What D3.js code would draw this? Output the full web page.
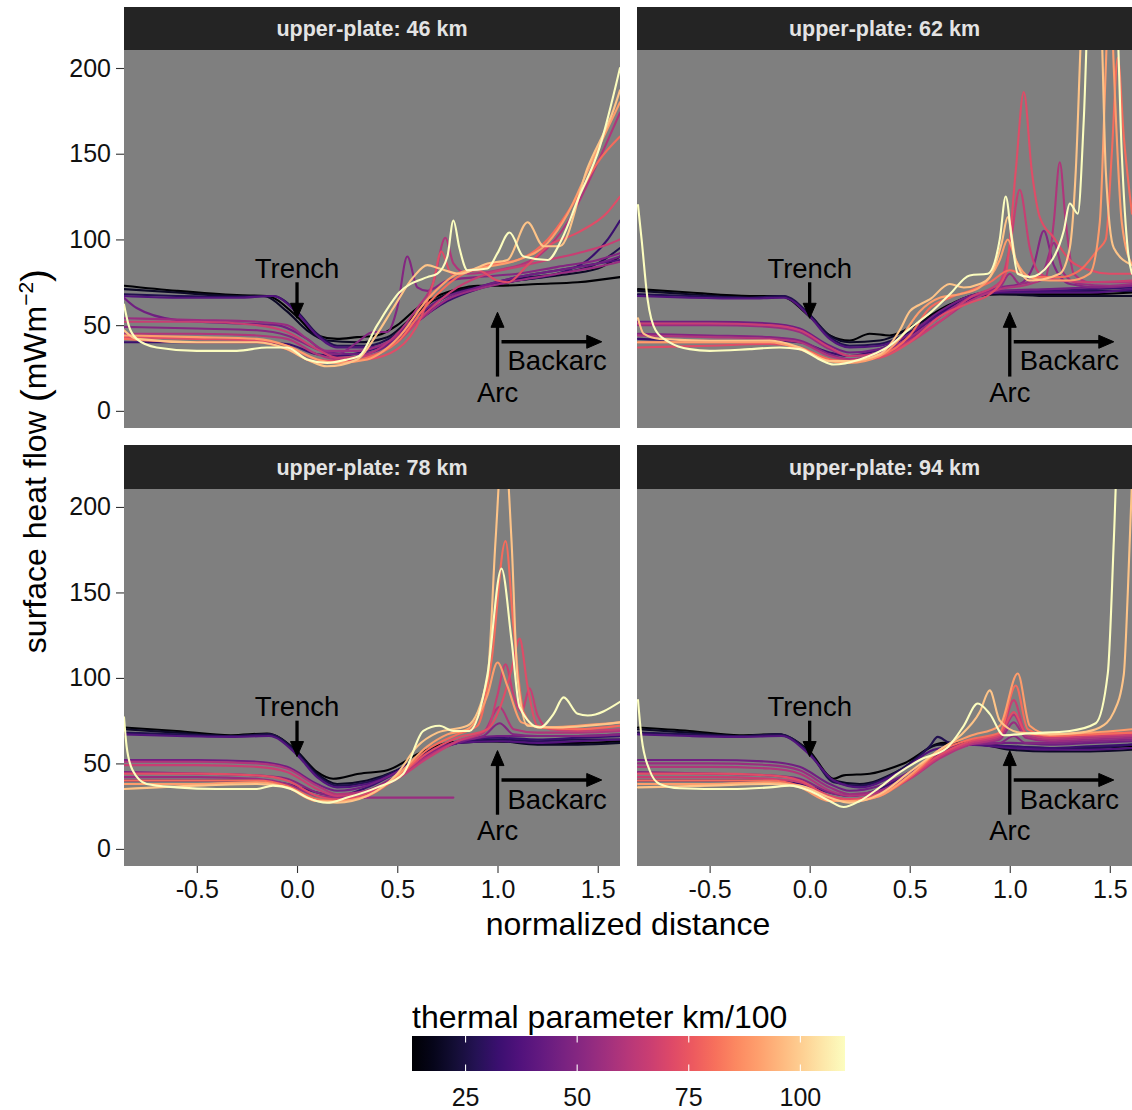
<!DOCTYPE html>
<html><head><meta charset="utf-8">
<script src="https://cdn.jsdelivr.net/npm/d3@7"></script>
<style>
html,body{margin:0;padding:0;background:#fff;}
svg{display:block;font-family:"Liberation Sans",Arial,Helvetica,sans-serif;}
</style></head><body>
<svg id="chart" width="1132" height="1110"></svg>
<script>
// Facet titles (upper-plate thickness)
const panelTitles = ["upper-plate: 46 km", "upper-plate: 62 km", "upper-plate: 78 km", "upper-plate: 94 km"];

// Thermal parameter (km/100) of each model, shared by all facets
const thermalParams = [13, 20, 27, 32, 38, 45, 50, 55, 60, 66, 72, 80, 90, 98, 110];

// Surface heat flow profiles [normalized distance, mW/m^2], one list per model
const hf46 = [
  [[-0.863,73],[-0.6,70],[-0.3,67.5],[-0.15,67],[0,55],[0.1,44],[0.2,42],[0.3,43],[0.4,44],[0.5,50],[0.6,60],[0.7,67],[0.8,71],[0.9,73],[1.0,73],[1.2,74],[1.4,75],[1.611,78]],
  [[-0.863,71],[-0.6,69],[-0.3,67],[-0.17,67],[-0.05,58],[0.05,47],[0.15,41],[0.3,40],[0.45,43],[0.55,52],[0.65,62],[0.8,70],[0.95,73],[1.1,76],[1.3,79],[1.5,83],[1.611,90]],
  [[-0.863,68],[-0.6,67],[-0.3,66.5],[-0.12,67],[0,58],[0.1,45],[0.2,38],[0.35,38],[0.5,45],[0.6,55],[0.75,67],[0.9,72],[1.1,77],[1.3,80],[1.5,86],[1.611,95]],
  [[-0.863,40],[-0.5,40],[-0.2,40],[-0.05,39],[0.1,33],[0.2,32],[0.35,35],[0.5,42],[0.6,52],[0.75,64],[0.9,71],[1.1,76],[1.3,80],[1.45,88],[1.55,100],[1.611,111]],
  [[-0.863,67],[-0.6,66],[-0.3,66],[-0.12,67],[0,57],[0.1,44],[0.2,37],[0.35,37],[0.5,42],[0.6,52],[0.75,65],[0.9,72],[1.1,78],[1.3,82],[1.5,86],[1.611,88]],
  [[-0.863,66],[-0.8,60],[-0.6,53],[-0.3,51],[-0.1,50],[0.05,42],[0.15,34],[0.3,33],[0.45,38],[0.55,50],[0.7,64],[0.9,72],[1.1,78],[1.3,82],[1.5,86],[1.611,90]],
  [[-0.863,49],[-0.5,48],[-0.2,47],[-0.05,44],[0.1,36],[0.2,33],[0.3,40],[0.38,46],[0.45,46],[0.5,60],[0.55,90],[0.6,72],[0.65,70],[0.75,76],[0.9,78],[1.1,80],[1.3,84],[1.5,88],[1.611,92]],
  [[-0.863,54],[-0.5,53],[-0.2,52],[-0.05,50],[0.05,42],[0.15,35],[0.3,35],[0.45,40],[0.6,52],[0.75,65],[0.9,71],[1.1,76],[1.3,80],[1.5,84],[1.611,87]],
  [[-0.863,45],[-0.5,45],[-0.2,44],[-0.05,42],[0.1,33],[0.2,30],[0.35,33],[0.5,45],[0.6,60],[0.68,75],[0.74,101],[0.78,86],[0.85,80],[1.0,82],[1.2,90],[1.35,110],[1.5,145],[1.611,174]],
  [[-0.863,52],[-0.5,52],[-0.2,50],[-0.05,46],[0.1,36],[0.2,31],[0.35,32],[0.5,40],[0.65,58],[0.8,72],[0.95,80],[1.1,84],[1.25,88],[1.4,92],[1.55,97],[1.611,100]],
  [[-0.863,43],[-0.5,42],[-0.2,41],[-0.05,38],[0.1,30],[0.2,29],[0.35,30],[0.5,36],[0.62,55],[0.68,75],[0.72,93],[0.77,80],[0.9,82],[1.0,76],[1.05,75],[1.15,85],[1.25,96],[1.4,104],[1.55,116],[1.611,125]],
  [[-0.863,42],[-0.5,40],[-0.2,40],[-0.05,36],[0.1,28],[0.2,28],[0.35,31],[0.5,40],[0.65,62],[0.8,78],[0.95,85],[1.1,88],[1.25,100],[1.4,125],[1.5,145],[1.611,160]],
  [[-0.863,44],[-0.5,43],[-0.2,42],[-0.05,38],[0.1,30],[0.2,28],[0.35,30],[0.5,42],[0.65,65],[0.8,80],[0.95,84],[1.1,88],[1.25,98],[1.35,115],[1.45,140],[1.55,165],[1.611,180]],
  [[-0.863,47],[-0.8,42],[-0.5,40],[-0.2,40],[-0.05,36],[0.05,30],[0.15,26],[0.3,30],[0.4,45],[0.48,60],[0.58,78],[0.65,85],[0.71,83],[0.81,80],[0.95,86],[1.05,88],[1.15,110],[1.23,96],[1.31,96],[1.45,142],[1.58,176],[1.611,187]],
  [[-0.863,62],[-0.84,50],[-0.8,42],[-0.7,37],[-0.5,35],[-0.3,35],[-0.15,37],[-0.05,37],[0.05,30],[0.15,28],[0.25,30],[0.31,32],[0.4,50],[0.51,69],[0.65,78],[0.7,80],[0.75,90],[0.78,111],[0.81,95],[0.85,82],[0.95,83],[1.0,92],[1.06,104],[1.13,90],[1.25,88],[1.32,100],[1.4,123],[1.51,154],[1.611,200]]
];

const hf62 = [
  [[-0.858,71],[-0.6,69],[-0.3,67],[-0.15,67],[0,55],[0.1,44],[0.2,41],[0.3,45],[0.4,44],[0.55,52],[0.7,62],[0.85,68],[1.0,68],[1.2,68],[1.4,68],[1.611,69]],
  [[-0.858,70],[-0.6,68],[-0.3,66],[-0.14,67],[0,56],[0.1,44],[0.2,40],[0.35,41],[0.5,48],[0.65,58],[0.8,66],[0.95,68],[1.2,67],[1.4,67],[1.611,67]],
  [[-0.858,68],[-0.6,67],[-0.3,66],[-0.13,67],[0,56],[0.1,43],[0.2,38],[0.35,39],[0.5,46],[0.65,57],[0.8,66],[0.95,69],[1.2,70],[1.4,70],[1.611,70]],
  [[-0.858,42],[-0.5,41],[-0.2,41],[-0.05,40],[0.1,34],[0.2,32],[0.35,36],[0.5,44],[0.65,57],[0.8,67],[0.95,70],[1.2,70],[1.4,71],[1.611,72]],
  [[-0.858,67],[-0.6,66],[-0.3,65.5],[-0.13,66],[0,55],[0.1,42],[0.2,37],[0.35,38],[0.5,45],[0.65,56],[0.8,65],[0.95,69],[1.2,69],[1.4,69],[1.611,71]],
  [[-0.858,52],[-0.5,52],[-0.2,51],[-0.05,48],[0.1,38],[0.2,34],[0.35,36],[0.5,45],[0.65,58],[0.8,67],[0.95,70],[1.2,71],[1.4,72],[1.611,73]],
  [[-0.858,45],[-0.5,44],[-0.2,43],[-0.05,41],[0.1,33],[0.2,30],[0.35,33],[0.5,42],[0.65,55],[0.8,66],[0.95,72],[1.05,74],[1.12,85],[1.17,105],[1.22,85],[1.3,74],[1.45,72],[1.611,73]],
  [[-0.858,50],[-0.5,50],[-0.2,49],[-0.05,46],[0.1,36],[0.2,32],[0.35,34],[0.5,43],[0.65,55],[0.8,66],[0.95,72],[1.0,80],[1.05,74],[1.17,82],[1.22,98],[1.27,80],[1.35,74],[1.5,73],[1.611,74]],
  [[-0.858,44],[-0.5,43],[-0.2,42],[-0.05,40],[0.1,32],[0.2,30],[0.35,33],[0.5,41],[0.65,52],[0.8,64],[0.95,71],[1.1,74],[1.18,78],[1.22,110],[1.25,145],[1.28,110],[1.32,80],[1.4,75],[1.611,75]],
  [[-0.858,51],[-0.5,51],[-0.2,50],[-0.05,47],[0.1,37],[0.2,32],[0.35,33],[0.5,40],[0.65,52],[0.8,66],[0.95,75],[1.0,95],[1.05,129],[1.1,95],[1.15,80],[1.25,76],[1.4,75],[1.611,76]],
  [[-0.858,37],[-0.5,38],[-0.2,39],[-0.05,37],[0.1,30],[0.2,29],[0.35,31],[0.5,40],[0.65,55],[0.8,63],[0.9,68],[0.98,80],[1.03,140],[1.07,186],[1.11,140],[1.15,113],[1.22,101],[1.3,88],[1.4,82],[1.5,80],[1.611,80]],
  [[-0.858,40],[-0.5,40],[-0.2,40],[-0.05,37],[0.1,30],[0.2,29],[0.35,32],[0.5,44],[0.6,60],[0.7,66],[0.8,70],[0.9,75],[1.0,82],[1.1,78],[1.25,78],[1.35,82],[1.44,94],[1.48,100],[1.51,150],[1.54,206],[1.57,160],[1.611,115]],
  [[-0.858,40],[-0.5,40],[-0.2,40],[-0.05,36],[0.1,29],[0.2,28],[0.35,32],[0.45,42],[0.55,58],[0.65,66],[0.75,68],[0.85,72],[0.95,88],[0.99,100],[1.03,88],[1.1,78],[1.2,76],[1.3,76],[1.4,80],[1.45,110],[1.48,200],[1.5,260],[1.52,200],[1.56,110],[1.611,85]],
  [[-0.858,54],[-0.83,45],[-0.75,42],[-0.5,41],[-0.2,41],[-0.05,37],[0.1,29],[0.2,29],[0.35,33],[0.45,47],[0.5,58],[0.55,62],[0.6,65],[0.7,74],[0.77,72],[0.85,74],[0.9,78],[0.96,98],[0.99,113],[1.03,88],[1.1,76],[1.25,80],[1.3,95],[1.33,140],[1.36,230],[1.42,300],[1.46,220],[1.48,140],[1.52,95],[1.611,85]],
  [[-0.858,120],[-0.84,100],[-0.81,65],[-0.77,47],[-0.7,40],[-0.6,36],[-0.5,35],[-0.3,36],[-0.15,37],[-0.05,36],[0.05,30],[0.12,27],[0.25,30],[0.4,38],[0.5,48],[0.6,57],[0.7,68],[0.8,79],[0.89,80],[0.95,100],[0.98,125],[1.01,100],[1.04,80],[1.1,78],[1.2,86],[1.27,105],[1.3,121],[1.34,115],[1.37,170],[1.4,260],[1.47,300],[1.53,250],[1.56,150],[1.59,94],[1.611,80]]
];

const hf78 = [
  [[-0.863,71],[-0.6,69],[-0.33,66.5],[-0.15,67.5],[0,57],[0.1,45],[0.18,41],[0.31,44],[0.45,46],[0.61,56],[0.78,62.5],[0.95,63],[1.2,62],[1.4,62],[1.611,63]],
  [[-0.863,70],[-0.6,68],[-0.33,66],[-0.15,67],[0,57],[0.1,44],[0.2,38],[0.35,40],[0.5,46],[0.65,56],[0.8,62],[1.0,63],[1.2,61],[1.4,61],[1.611,62]],
  [[-0.863,68],[-0.6,67],[-0.33,66],[-0.14,67],[0,56],[0.1,43],[0.2,37],[0.35,39],[0.5,46],[0.65,57],[0.8,62],[1.0,64],[1.2,63],[1.4,64],[1.611,64]],
  [[-0.863,40],[-0.5,40],[-0.2,40],[-0.05,38],[0.1,33],[0.2,31],[0.35,36],[0.5,45],[0.65,56],[0.8,62],[1.0,65],[1.2,64],[1.4,65],[1.611,66]],
  [[-0.863,67],[-0.6,66],[-0.33,65.5],[-0.14,66],[0,55],[0.1,42],[0.2,36],[0.35,38],[0.5,45],[0.65,56],[0.8,62],[1.0,63],[1.2,62],[1.4,63],[1.611,64]],
  [[-0.863,52],[-0.5,52],[-0.2,51],[-0.05,48],[0.1,38],[0.2,34],[0.35,37],[0.5,45],[0.65,55],[0.8,62],[1.0,66],[1.2,66],[1.4,66],[1.611,67]],
  [[-0.863,45],[-0.5,44],[-0.2,43],[-0.05,41],[0.1,33],[0.2,31],[0.35,34],[0.5,43],[0.65,55],[0.8,63],[0.93,66],[1.01,73.5],[1.08,67],[1.2,66],[1.4,66],[1.611,67]],
  [[-0.863,42],[-0.5,42],[-0.2,41],[-0.05,38],[0.1,31],[0.2,30],[0.4,30],[0.6,30],[0.78,30]],
  [[-0.863,51],[-0.5,51],[-0.2,50],[-0.05,47],[0.1,37],[0.2,32],[0.35,34],[0.5,42],[0.65,54],[0.8,63],[0.93,68],[1.01,83],[1.08,70],[1.2,68],[1.4,68],[1.611,69]],
  [[-0.863,49],[-0.5,49],[-0.2,48],[-0.05,45],[0.1,35],[0.2,31],[0.35,33],[0.5,41],[0.65,53],[0.8,63],[0.95,70],[1.0,90],[1.04,108],[1.08,90],[1.12,80],[1.16,94],[1.2,78],[1.26,70],[1.4,69],[1.611,70]],
  [[-0.863,44],[-0.5,44],[-0.2,43],[-0.05,40],[0.1,31],[0.2,29],[0.35,32],[0.5,42],[0.65,56],[0.8,65],[0.95,70],[1.02,85],[1.07,105],[1.11,123],[1.15,95],[1.2,72],[1.4,70],[1.611,72]],
  [[-0.863,40],[-0.5,40],[-0.2,40],[-0.05,37],[0.1,29],[0.2,28],[0.35,31],[0.5,42],[0.65,58],[0.8,67],[0.9,72],[0.97,110],[1.04,180],[1.08,130],[1.13,80],[1.2,71],[1.4,70],[1.611,72]],
  [[-0.863,38],[-0.5,38],[-0.2,39],[-0.05,36],[0.1,28],[0.2,28],[0.35,31],[0.5,43],[0.65,60],[0.75,67],[0.85,70],[0.95,90],[1.0,109],[1.05,95],[1.12,74],[1.25,71],[1.4,72],[1.611,74]],
  [[-0.863,35],[-0.5,37],[-0.2,38],[-0.05,36],[0.1,28],[0.2,27],[0.35,31],[0.5,44],[0.6,60],[0.7,68],[0.85,72],[0.95,100],[0.99,180],[1.03,245],[1.07,180],[1.1,100],[1.15,72],[1.3,71],[1.45,72],[1.611,74]],
  [[-0.863,77],[-0.85,60],[-0.82,46],[-0.75,38],[-0.6,36],[-0.4,35],[-0.2,35],[-0.12,37],[-0.03,35],[0.05,30],[0.15,27],[0.25,30],[0.4,36],[0.53,44],[0.63,69],[0.71,72],[0.78,69],[0.86,69],[0.95,102],[1.02,164],[1.07,122],[1.11,83],[1.21,71],[1.28,79],[1.33,88.6],[1.4,79],[1.45,78],[1.611,86]]
];

const hf94 = [
  [[-0.858,71],[-0.6,69],[-0.35,66.5],[-0.16,67],[0,57],[0.12,41],[0.17,43],[0.3,44],[0.47,50],[0.67,62],[0.85,62],[1.0,59],[1.2,58],[1.4,59],[1.611,60]],
  [[-0.858,70],[-0.6,68],[-0.35,66],[-0.16,67],[0,56],[0.12,40],[0.25,38],[0.45,46],[0.65,61],[0.85,61],[1.0,58],[1.2,57],[1.4,57],[1.611,58]],
  [[-0.858,68],[-0.6,67],[-0.35,66],[-0.15,67],[0,56],[0.12,39],[0.25,37],[0.45,46],[0.6,60],[0.64,65.5],[0.7,62],[0.85,61],[1.0,60],[1.2,59],[1.4,59],[1.611,61]],
  [[-0.858,40],[-0.5,40],[-0.2,40],[-0.05,38],[0.1,33],[0.2,31],[0.35,35],[0.5,45],[0.65,56],[0.8,61],[1.0,60],[1.2,59],[1.4,60],[1.611,61]],
  [[-0.858,67],[-0.6,66],[-0.35,65.5],[-0.14,66],[0,55],[0.12,40],[0.25,36],[0.45,45],[0.62,58],[0.8,61],[1.0,59],[1.2,58],[1.4,58],[1.611,59]],
  [[-0.858,52],[-0.5,52],[-0.2,51],[-0.05,48],[0.1,38],[0.2,34],[0.35,37],[0.5,45],[0.65,56],[0.8,61],[1.0,62],[1.2,61],[1.4,62],[1.611,63]],
  [[-0.858,45],[-0.5,44],[-0.2,43],[-0.05,41],[0.1,33],[0.2,31],[0.35,34],[0.5,43],[0.65,55],[0.8,61],[0.95,62],[1.02,66],[1.08,62],[1.2,62],[1.4,63],[1.611,64]],
  [[-0.858,50],[-0.5,50],[-0.2,49],[-0.05,46],[0.1,36],[0.2,32],[0.35,34],[0.5,42],[0.65,54],[0.8,61],[0.95,64],[1.02,74],[1.08,65],[1.2,63],[1.4,64],[1.611,65]],
  [[-0.858,48],[-0.5,48],[-0.2,47],[-0.05,44],[0.1,34],[0.2,31],[0.35,33],[0.5,41],[0.65,53],[0.8,61],[0.95,65],[1.02,78.5],[1.08,66],[1.2,64],[1.4,65],[1.611,66]],
  [[-0.858,42],[-0.5,42],[-0.2,41],[-0.05,39],[0.1,31],[0.2,29],[0.35,32],[0.5,41],[0.65,54],[0.8,62],[0.95,66],[1.02,87],[1.08,68],[1.2,65],[1.4,66],[1.611,67]],
  [[-0.858,44],[-0.5,44],[-0.2,43],[-0.05,40],[0.1,31],[0.2,29],[0.35,32],[0.5,42],[0.65,55],[0.8,63],[0.95,67],[1.02,80],[1.08,68],[1.2,66],[1.4,67],[1.611,68]],
  [[-0.858,40],[-0.5,40],[-0.2,40],[-0.05,37],[0.1,29],[0.2,28],[0.35,31],[0.5,42],[0.65,57],[0.8,64],[0.95,68],[1.03,95.6],[1.09,70],[1.2,66],[1.4,67],[1.611,68]],
  [[-0.858,38],[-0.5,38],[-0.2,39],[-0.05,36],[0.1,28],[0.2,28],[0.35,31],[0.5,43],[0.65,58],[0.8,66],[0.95,72],[1.04,102.6],[1.1,72],[1.2,67],[1.4,68],[1.611,70]],
  [[-0.858,36],[-0.5,37],[-0.2,38],[-0.05,37],[0.1,30],[0.2,27],[0.35,32],[0.5,45],[0.65,58],[0.75,66],[0.85,80],[0.9,92.7],[0.95,75],[1.05,68],[1.2,67],[1.35,68],[1.45,71],[1.52,80],[1.57,102],[1.59,150],[1.611,215]],
  [[-0.858,87],[-0.84,65],[-0.8,46],[-0.75,38],[-0.65,35.5],[-0.4,35],[-0.2,36],[-0.1,37],[0,34],[0.1,28],[0.17,24.5],[0.25,28],[0.35,36],[0.44,44],[0.55,52],[0.69,59.5],[0.77,72],[0.84,85],[0.9,79],[0.97,66.5],[1.1,67.6],[1.3,69],[1.43,73.5],[1.49,102.6],[1.52,180],[1.54,240],[1.611,300]]
];

const xTicks = [-0.5, 0, 0.5, 1, 1.5];
const yTicks = [0, 50, 100, 150, 200];
const legendTicks = [25, 50, 75, 100];

// ---------- drawing ----------
const svg = d3.select("#chart");
const FONT = '"Liberation Sans",Arial,Helvetica,sans-serif';

const colX = [124, 637], panelW = [496, 495];
const rowY = [50, 489], panelH = [378, 377], stripH = [43, 44];
const xDomain = [-0.863, 1.611], yDomain = [-10, 210.5];

const color = d3.scaleSequential(d3.interpolateMagma).domain(d3.extent(thermalParams));
const drawOrder = d3.range(thermalParams.length).sort((a, b) => thermalParams[a] - thermalParams[b]);
const defs = svg.append("defs");
const fmtX = d => d3.format(".1f")(d).replace("\u2212", "-");

function arrow(g, x1, y1, x2, y2) {
  const dx = x2 - x1, dy = y2 - y1, len = Math.hypot(dx, dy);
  const ux = dx / len, uy = dy / len, head = 15, half = 6.5;
  const bx = x2 - ux * head, by = y2 - uy * head;
  g.append("line").attr("x1", x1).attr("y1", y1).attr("x2", bx + ux * 2).attr("y2", by + uy * 2)
    .attr("stroke", "#000").attr("stroke-width", 3.3);
  g.append("path")
    .attr("d", `M${x2},${y2}L${bx - uy * half},${by + ux * half}L${bx + uy * half},${by - ux * half}Z`)
    .attr("fill", "#000").attr("stroke", "#000").attr("stroke-width", 1);
}

[hf46, hf62, hf78, hf94].forEach((series, i) => {
  const col = i % 2, row = Math.floor(i / 2);
  const x0 = colX[col], y0 = rowY[row], w = panelW[col], h = panelH[row];
  const x = d3.scaleLinear().domain(xDomain).range([x0, x0 + w]);
  const y = d3.scaleLinear().domain(yDomain).range([y0 + h, y0]);

  // facet strip
  svg.append("rect").attr("x", x0).attr("y", y0 - stripH[row]).attr("width", w).attr("height", stripH[row])
    .attr("fill", "#242424");
  svg.append("text").attr("x", x0 + w / 2).attr("y", y0 - stripH[row] / 2).attr("dy", "0.36em")
    .attr("text-anchor", "middle").attr("font-weight", "bold").attr("font-size", 21.5)
    .attr("fill", "#e3e3e3").text(panelTitles[i]);

  // panel background
  svg.append("rect").attr("x", x0).attr("y", y0).attr("width", w).attr("height", h).attr("fill", "#7f7f7f");

  defs.append("clipPath").attr("id", "clip" + i)
    .append("rect").attr("x", x0).attr("y", y0).attr("width", w).attr("height", h);

  const g = svg.append("g").attr("clip-path", `url(#clip${i})`);
  const line = d3.line().x(d => x(d[0])).y(d => y(d[1])).curve(d3.curveMonotoneX);
  drawOrder.forEach(k => {
    g.append("path").attr("d", line(series[k])).attr("fill", "none")
      .attr("stroke", color(thermalParams[k])).attr("stroke-width", 2.1)
      .attr("stroke-linejoin", "round").attr("stroke-linecap", "round");
  });

  // annotations
  const ann = svg.append("g").attr("font-size", 27.5).attr("fill", "#000");
  ann.append("text").attr("x", x(0)).attr("y", y(83.4)).attr("dy", "0.35em").attr("text-anchor", "middle").text("Trench");
  arrow(ann, x(0), y(75), x(0), y(54));
  arrow(ann, x(1), y(20), x(1), y(57.5));
  arrow(ann, x(1.02), y(40.3), x(1.52), y(40.3));
  ann.append("text").attr("x", x(1)).attr("y", y(11)).attr("dy", "0.35em").attr("text-anchor", "middle").text("Arc");
  ann.append("text").attr("x", x(1.05)).attr("y", y(29.2)).attr("dy", "0.35em").attr("text-anchor", "start").text("Backarc");

  // axes
  if (col === 0) {
    const ax = svg.append("g").attr("transform", `translate(${x0},0)`)
      .call(d3.axisLeft(y).tickValues(yTicks).tickFormat(d3.format("d")).tickSize(8).tickPadding(5));
    ax.select(".domain").remove();
    ax.selectAll("line").attr("stroke", "#333").attr("stroke-width", 1.1);
    ax.selectAll("text").attr("font-size", 25).attr("fill", "#111").attr("font-family", FONT);
  }
  if (row === 1) {
    const ax = svg.append("g").attr("transform", `translate(0,${y0 + h})`)
      .call(d3.axisBottom(x).tickValues(xTicks).tickFormat(fmtX).tickSize(7).tickPadding(7));
    ax.select(".domain").remove();
    ax.selectAll("line").attr("stroke", "#333").attr("stroke-width", 1.1);
    ax.selectAll("text").attr("font-size", 25).attr("fill", "#111").attr("font-family", FONT);
  }
});

// axis titles
svg.append("text").attr("x", 628).attr("y", 935).attr("text-anchor", "middle")
  .attr("font-size", 32).attr("fill", "#000").text("normalized distance");

const yt = svg.append("text").attr("transform", "translate(46,461) rotate(-90)")
  .attr("text-anchor", "middle").attr("font-size", 32).attr("fill", "#000");
yt.append("tspan").text("surface heat flow ");
yt.append("tspan").attr("font-size", 39).attr("dy", 2).text("(");
yt.append("tspan").attr("dy", -2).text("mWm");
yt.append("tspan").attr("font-size", 21).attr("dy", -13).text("\u22122");
yt.append("tspan").attr("font-size", 39).attr("dy", 15).text(")");

// colour bar legend
const barX = 412, barY = 1036, barW = 433, barH = 35;
const tpExtent = d3.extent(thermalParams);
const lx = d3.scaleLinear().domain(tpExtent).range([barX, barX + barW]);
const grad = defs.append("linearGradient").attr("id", "magmaGrad").attr("x1", "0%").attr("x2", "100%");
d3.range(0, 1.0001, 0.05).forEach(t => {
  grad.append("stop").attr("offset", (t * 100) + "%").attr("stop-color", d3.interpolateMagma(t));
});
svg.append("text").attr("x", barX).attr("y", 1028).attr("font-size", 32).attr("fill", "#000")
  .text("thermal parameter km/100");
svg.append("rect").attr("x", barX).attr("y", barY).attr("width", barW).attr("height", barH)
  .attr("fill", "url(#magmaGrad)");
const lt = svg.append("g");
legendTicks.forEach(v => {
  const px = lx(v);
  lt.append("line").attr("x1", px).attr("x2", px).attr("y1", barY).attr("y2", barY + 6.5)
    .attr("stroke", "#fff").attr("stroke-width", 1.1);
  lt.append("line").attr("x1", px).attr("x2", px).attr("y1", barY + barH - 6.5).attr("y2", barY + barH)
    .attr("stroke", "#fff").attr("stroke-width", 1.1);
  lt.append("text").attr("x", px).attr("y", 1106).attr("text-anchor", "middle")
    .attr("font-size", 25).attr("fill", "#111").text(v);
});
</script>
</body></html>
